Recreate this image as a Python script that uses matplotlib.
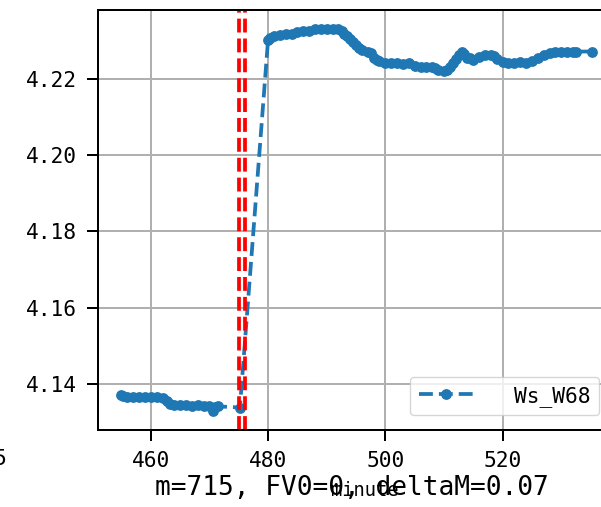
import matplotlib.pyplot as plt

# === DADOS ===
minutos = [455, 455.3, 456, 457, 458, 459, 460, 461, 462, 462.7, 463.3, 464, 465, 466,
           467, 468, 469, 470, 470.6, 471, 471.4,
           475.2,
           480, 480.3, 481, 482, 483, 484, 485, 486, 487, 488, 489, 490, 491, 492,
           492.6, 493, 493.5, 494, 494.5, 495, 495.5, 496, 497, 497.5, 498, 498.5,
           499, 500, 501, 502, 503, 504, 505, 506, 507, 508, 508.5, 509, 510,
           510.5, 511, 511.5, 512, 512.5, 513, 513.5, 514, 514.5, 515, 516, 517,
           518, 518.5, 519, 520, 521, 522, 523, 524, 525, 526, 527, 528, 529,
           530, 531, 532, 532.6,
           535.2]
ws_w68 = [4.1370, 4.1367, 4.1366, 4.1365, 4.1366, 4.1365, 4.1366, 4.1365, 4.1362, 4.1355,
          4.1347, 4.1344, 4.1345, 4.1344, 4.1343, 4.1344, 4.1343, 4.1342, 4.1329, 4.1340,
          4.1341,
          4.1338,
          4.2302, 4.2307, 4.2312, 4.2316, 4.2318, 4.2318, 4.2322, 4.2326, 4.2326, 4.2331,
          4.2332, 4.2332, 4.2331, 4.2331, 4.2326, 4.2318, 4.2312, 4.2305, 4.2297, 4.2290,
          4.2282, 4.2276, 4.2271, 4.2268, 4.2256, 4.2250, 4.2248, 4.2242, 4.2241, 4.2242,
          4.2240, 4.2241, 4.2234, 4.2232, 4.2231, 4.2232, 4.2228, 4.2224, 4.2222, 4.2224,
          4.2232, 4.2242, 4.2252, 4.2262, 4.2272, 4.2266, 4.2256, 4.2255, 4.2250, 4.2257,
          4.2263, 4.2263, 4.2260, 4.2252, 4.2245, 4.2243, 4.2243, 4.2244, 4.2243, 4.2248,
          4.2255, 4.2264, 4.2269, 4.2270, 4.2271, 4.2272, 4.2272, 4.2272,
          4.2272]
linhas_vermelhas = [475, 476]
xticks = [460, 480, 500, 520]
yticks = [4.14, 4.16, 4.18, 4.20, 4.22]
rotulo_serie = "Ws_W68"
texto_info = "m=715, FV0=0, deltaM=0.07"

FONTE = "DejaVu Sans Mono"
plt.rcParams["font.family"] = FONTE

fig = plt.figure(figsize=(6.01, 5.07), dpi=100)
ax = fig.add_axes([98 / 601, 1 - 430 / 507, (614 - 98) / 601, (430 - 10) / 507])

ax.plot(minutos, ws_w68, linestyle="--", marker=".", color="#1f77b4",
        linewidth=2.7, markersize=13.5, label=rotulo_serie)
for xv in linhas_vermelhas:
    ax.axvline(xv, color="red", linestyle="--", linewidth=2.7)

ax.set_xlim(451, 539)
ax.set_ylim(4.1279, 4.2381)
ax.set_xticks(xticks)
ax.set_yticks(yticks)
ax.set_yticklabels([f"{v:.2f}" for v in yticks])
ax.grid(True, color="#b0b0b0", linewidth=1.44)
ax.tick_params(labelsize=15.3, width=1.44, length=8, pad=7)
for s in ax.spines.values():
    s.set_linewidth(1.44)

ax.set_xlabel("minute", fontsize=13.5)
ax.xaxis.set_label_coords(0.516, -0.121)
fig.text(352 / 601, 1 - 488 / 507, texto_info, fontsize=18.8, ha="center", va="center")
fig.text(6 / 601, 1 - 459 / 507, "5", fontsize=15.3, ha="right", va="center")

ax.legend(loc="lower right", fontsize=15.3, handlelength=2.6, handletextpad=1.9,
          borderaxespad=0.7, framealpha=0.8)

fig.savefig("out.png", dpi=100)
